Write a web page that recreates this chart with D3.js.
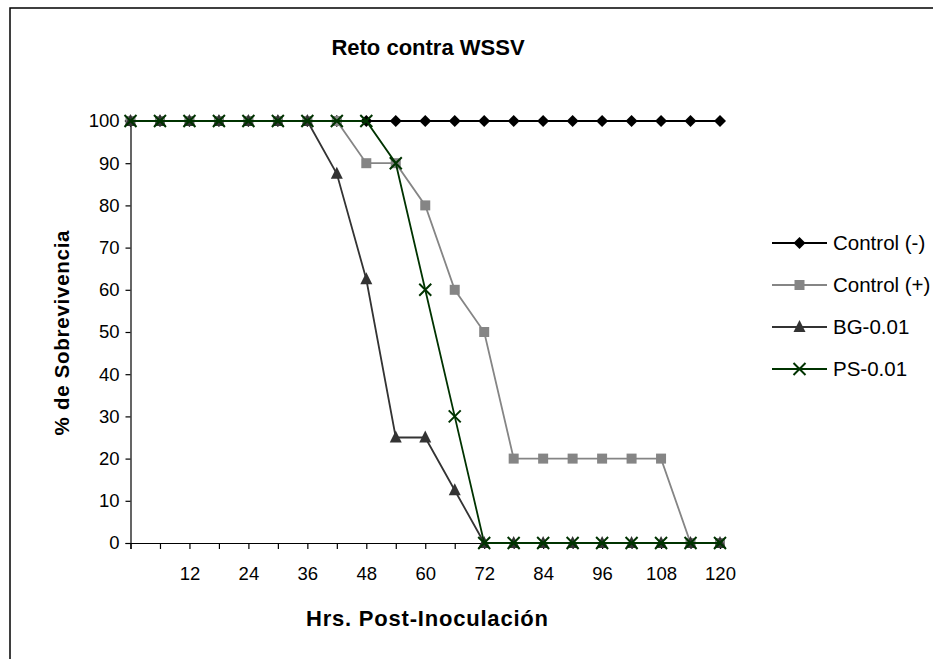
<!DOCTYPE html>
<html>
<head>
<meta charset="utf-8">
<script src="https://cdn.jsdelivr.net/npm/d3@7"></script>
<style>
  html, body { margin: 0; padding: 0; background: #fff; }
  svg { display: block; font-family: Arial, "Liberation Sans", sans-serif; }
</style>
</head>
<body>
<svg id="chart" width="933" height="659"></svg>
<script>
// Hours after inoculation (every 6 h)
const hours = [0, 6, 12, 18, 24, 30, 36, 42, 48, 54, 60, 66, 72, 78, 84, 90, 96, 102, 108, 114, 120];
const xTickLabels = [12, 24, 36, 48, 60, 72, 84, 96, 108, 120];
const yTicks = [0, 10, 20, 30, 40, 50, 60, 70, 80, 90, 100];

// Survival (%) per treatment
const controlNeg = [100, 100, 100, 100, 100, 100, 100, 100, 100, 100, 100, 100, 100, 100, 100, 100, 100, 100, 100, 100, 100];
const controlPos = [100, 100, 100, 100, 100, 100, 100, 100, 90, 90, 80, 60, 50, 20, 20, 20, 20, 20, 20, 0, 0];
const bg001 = [100, 100, 100, 100, 100, 100, 100, 87.5, 62.5, 25, 25, 12.5, 0, 0, 0, 0, 0, 0, 0, 0, 0];
const ps001 = [100, 100, 100, 100, 100, 100, 100, 100, 100, 90, 60, 30, 0, 0, 0, 0, 0, 0, 0, 0, 0];

const seriesNames = ["Control (-)", "Control (+)", "BG-0.01", "PS-0.01"];
const seriesValues = [controlNeg, controlPos, bg001, ps001];
const seriesColors = ["#000000", "#858585", "#333333", "#003300"];
const seriesMarkers = ["diamond", "square", "triangle", "cross"];

const FONT = "Arial, 'Liberation Sans', sans-serif";
const svg = d3.select("#chart");

// Outer frame
svg.append("rect")
  .attr("x", 10).attr("y", 8)
  .attr("width", 1000).attr("height", 700)
  .attr("fill", "none").attr("stroke", "#000").attr("stroke-width", 1.5);

const x = d3.scaleLinear().domain([0, 120]).range([130.5, 720]);
const y = d3.scaleLinear().domain([0, 100]).range([543, 121]);

// Y axis
const yAxis = d3.axisLeft(y).tickValues(yTicks).tickSize(5).tickPadding(6);
const gy = svg.append("g").attr("transform", `translate(${x(0)},0)`).call(yAxis);
gy.select(".domain").attr("stroke", "#000").attr("stroke-width", 1.2);
gy.selectAll(".tick line").attr("stroke", "#000").attr("stroke-width", 1.2);
gy.selectAll(".tick text").attr("font-size", 18.5).attr("fill", "#000").attr("font-family", FONT);

// X axis: a tick at every category, labels every 12 h
const xAxis = d3.axisBottom(x).tickValues(hours).tickSize(6).tickPadding(18)
  .tickFormat(d => xTickLabels.includes(d) ? d : "");
const gx = svg.append("g").attr("transform", `translate(0,${y(0)})`).call(xAxis);
gx.select(".domain").attr("stroke", "#000").attr("stroke-width", 1.2);
gx.selectAll(".tick line").attr("stroke", "#000").attr("stroke-width", 1.2);
gx.selectAll(".tick text").attr("font-size", 18.5).attr("fill", "#000").attr("font-family", FONT);

// Titles
svg.append("text").attr("x", 428).attr("y", 55)
  .attr("text-anchor", "middle").attr("font-size", 22).attr("font-weight", "bold")
  .text("Reto contra WSSV");
svg.append("text").attr("x", 427).attr("y", 626)
  .attr("text-anchor", "middle").attr("font-size", 22).attr("font-weight", "bold")
  .attr("textLength", 242).attr("lengthAdjust", "spacing")
  .text("Hrs. Post-Inoculación");
svg.append("text")
  .attr("transform", "translate(69,333) rotate(-90)")
  .attr("text-anchor", "middle").attr("font-size", 20.5).attr("font-weight", "bold")
  .attr("textLength", 205).attr("lengthAdjust", "spacing")
  .text("% de Sobrevivencia");

// Marker drawing
function drawMarker(g, type, color) {
  if (type === "diamond") {
    g.append("path").attr("d", "M0,-6L6,0L0,6L-6,0Z").attr("fill", color);
  } else if (type === "square") {
    g.append("rect").attr("x", -5).attr("y", -5).attr("width", 10).attr("height", 10).attr("fill", color);
  } else if (type === "triangle") {
    g.append("path").attr("d", "M0,-7L6,5L-6,5Z").attr("fill", color);
  } else if (type === "cross") {
    g.append("path").attr("d", "M-6,-6L6,6M6,-6L-6,6")
      .attr("stroke", color).attr("stroke-width", 2).attr("fill", "none");
  }
}

const line = d3.line().x((d, i) => x(hours[i])).y(d => y(d));

seriesValues.forEach((vals, s) => {
  const g = svg.append("g");
  g.append("path").datum(vals)
    .attr("d", line)
    .attr("fill", "none")
    .attr("stroke", seriesColors[s])
    .attr("stroke-width", s === 0 ? 2 : 1.8);
  vals.forEach((v, i) => {
    const m = g.append("g").attr("transform", `translate(${x(hours[i])},${y(v)})`);
    drawMarker(m, seriesMarkers[s], seriesColors[s]);
  });
});

// Legend
const legend = svg.append("g");
seriesNames.forEach((name, s) => {
  const ly = 243 + s * 42;
  legend.append("line").attr("x1", 772).attr("x2", 827).attr("y1", ly).attr("y2", ly)
    .attr("stroke", seriesColors[s]).attr("stroke-width", s === 0 ? 2 : 1.8);
  const m = legend.append("g").attr("transform", `translate(799.5,${ly})`);
  drawMarker(m, seriesMarkers[s], seriesColors[s]);
  legend.append("text").attr("x", 833).attr("y", ly).attr("dy", "0.35em")
    .attr("font-size", 20.5).attr("fill", "#000").attr("font-family", FONT).text(name);
});
</script>
</body>
</html>
